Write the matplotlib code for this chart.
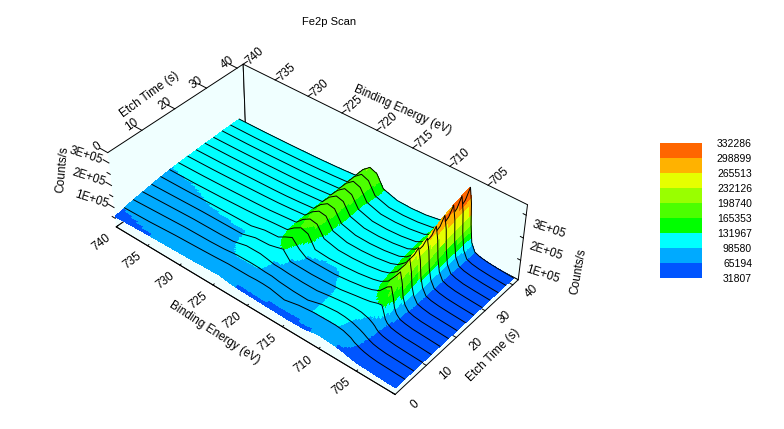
import numpy as np
import matplotlib
matplotlib.use("Agg")
import matplotlib.pyplot as plt
from matplotlib.colors import BoundaryNorm, ListedColormap
from mpl_toolkits.mplot3d import proj3d

plt.rcParams["font.family"] = ["Liberation Sans", "DejaVu Sans"]

###############################################################################
# DATA
###############################################################################

energy = [740, 736, 732, 728, 726, 724, 722, 721, 720, 719, 718, 716, 714, 712,
          710, 709, 708, 707, 706.5, 706.2, 706, 705.7, 705.2, 704.5, 703.5, 702, 700]

etch_time = [0, 2.9, 5.7, 8.6, 11.4, 14.3, 17.1, 20, 22.9, 25.7, 28.6, 31.4, 34.3, 37.1, 40]

# counts per scan, in thousands, one list per etch time
scan_00 = [58, 64, 67, 70, 73, 75, 66, 64, 63, 62, 61, 60, 58, 60, 72, 70, 67, 62, 59, 56, 54, 52, 49, 47, 45, 43, 40]
scan_01 = [68, 72, 80, 85, 88, 92, 92, 92, 94, 94, 92, 78, 92, 99, 100, 100, 96, 84, 72, 68, 64, 60, 55, 50, 46, 44, 41]
scan_02 = [76, 82, 88, 90, 93, 100, 101, 100, 97, 96, 90, 84, 82, 100, 106, 104, 98, 86, 78, 72, 68, 63, 56, 51, 47, 45, 42]
scan_03 = [82, 87, 92, 93, 95, 110, 110, 104, 97, 96, 93, 90, 90, 100, 108, 110, 108, 98, 88, 80, 72, 64, 57, 52, 48, 45, 42]
scan_04 = [88, 92, 96, 97, 97.5, 115, 118, 126, 135, 97, 96, 94, 96, 100, 111, 116, 122, 133, 135, 105, 82, 68, 58, 53, 48, 46, 42]
scan_05 = [94, 96, 100, 102, 103, 118, 122, 140, 155, 120, 98, 97, 97, 104, 114, 122, 136, 172, 182, 140, 100, 76, 60, 54, 49, 46, 42]
scan_06 = [98, 100, 104, 110, 114, 120, 125, 150, 168, 158, 105, 100, 102, 107, 117, 126, 146, 190, 215, 170, 112, 82, 61, 54, 49, 46, 42]
scan_07 = [101, 103, 107, 112, 115, 121, 127, 157, 176, 170, 122, 106, 105, 109, 119, 130, 155, 205, 240, 190, 125, 88, 62, 55, 49, 46, 42]
scan_08 = [103, 105, 109, 114, 117, 122, 128, 160, 180, 175, 125, 108, 107, 111, 121, 134, 162, 215, 255, 205, 135, 92, 63, 55, 50, 46, 42]
scan_09 = [105, 107, 111, 115, 118, 123, 129, 163, 184, 178, 128, 110, 108, 112, 122, 137, 168, 222, 265, 215, 140, 94, 64, 56, 50, 46, 42]
scan_10 = [107, 109, 112, 116, 119, 124, 129, 166, 188, 180, 130, 111, 109, 113, 123, 139, 174, 235, 285, 230, 150, 96, 65, 56, 50, 46, 42]
scan_11 = [108, 110, 113, 117, 120, 124, 130, 168, 192, 182, 132, 112, 110, 114, 124, 141, 178, 245, 302, 245, 160, 97, 66, 57, 50, 46, 42]
scan_12 = [110, 111, 114, 118, 121, 125, 130, 170, 195, 184, 133, 113, 111, 115, 125, 143, 182, 255, 315, 255, 165, 98, 66, 57, 51, 46, 42]
scan_13 = [111, 112, 115, 119, 122, 126, 131, 172, 198, 186, 134, 114, 112, 116, 126, 145, 186, 262, 325, 262, 170, 99, 66, 57, 51, 46, 42]
scan_14 = [112, 113, 116, 120, 123, 127, 132, 174, 200, 188, 135, 115, 113, 117, 128, 147, 190, 268, 332, 268, 175, 100, 66, 57, 51, 46, 42]

levels = [31807, 65194, 98580, 131967, 165353, 198740, 232126, 265513, 298899, 332286]
band_colors = ["#0055FF", "#00AAFF", "#00FFFF", "#00FF00", "#4CFF00",
               "#99FF00", "#E5FF00", "#FFB200", "#FF6600"]

energy_ticks = [740, 735, 730, 725, 720, 715, 710, 705]
time_ticks = [0, 10, 20, 30, 40]
count_ticks = [100000, 200000, 300000]
count_minor = [50000, 150000, 250000]
count_labels = ["1E+05", "2E+05", "3E+05"]

###############################################################################
# FIGURE
###############################################################################

E_LIM = (740, 700)
T_LIM = (0, 42)
Z_LIM = (10000, 345000)
PANE = "#F0FFFF"
FS = 8.5
LW = 0.7

fig = plt.figure(figsize=(7.84, 4.29), dpi=100)
fig.text(329 / 784, 1 - 22 / 429, "Fe2p Scan", ha="center", va="center", fontsize=8)

# square 3D axes placed so the box lands where it sits in the reference
side = 417.2
ax = fig.add_axes([98.9 / 784, -1.5 / 429, side / 784, side / 429], projection="3d")
ax.set_proj_type("persp", focal_length=0.653)
ax.view_init(elev=40.536, azim=-50.014)
ax.set_box_aspect((1, 0.551, 0.268))
ax.set_xlim(*E_LIM, view_margin=0)
ax.set_ylim(*T_LIM, view_margin=0)
ax.set_zlim(*Z_LIM, view_margin=0)
ax.patch.set_alpha(0)
ax.grid(False)
ax.computed_zorder = False

for axis in (ax.xaxis, ax.yaxis, ax.zaxis):
    axis.set_pane_color(PANE)
    axis.pane.set_edgecolor("black")
    axis.pane.set_linewidth(LW)
    axis.line.set_color("black")
    axis.line.set_linewidth(LW)
    axis._axinfo["tick"]["inward_factor"] = 0
    axis._axinfo["tick"]["outward_factor"] = 0.12
    axis._axinfo["tick"]["linewidth"] = {True: LW, False: LW}

ax.set_xticks(energy_ticks)
ax.set_yticks(time_ticks)
ax.set_zticks(count_ticks)
ax.set_zticklabels(count_labels)
ax.tick_params(axis="x", labelsize=FS, pad=-4)
ax.tick_params(axis="y", labelsize=FS, pad=2)
ax.tick_params(axis="z", labelsize=FS, pad=0)
for lab in ax.get_xticklabels():
    lab.set_rotation(38)
    lab.set_ha("right")
for lab in ax.get_yticklabels():
    lab.set_rotation(42)
    lab.set_va("bottom")
for lab in ax.get_zticklabels():
    lab.set_rotation(-18)
    lab.set_va("top")

###############################################################################
# SURFACE: drawn strip by strip from the back so the ridges hide the lines
###############################################################################

scans = [scan_00, scan_01, scan_02, scan_03, scan_04, scan_05, scan_06, scan_07,
         scan_08, scan_09, scan_10, scan_11, scan_12, scan_13, scan_14]
counts = np.array(scans, dtype=float) * 1000
energy_arr = np.array(energy, dtype=float)
time_arr = np.array(etch_time, dtype=float)

cmap = ListedColormap(band_colors)
norm = BoundaryNorm(levels, cmap.N, clip=True)

# finer mesh only so that the colour bands follow the surface smoothly
fine_energy = np.linspace(740, 700, 401)
fine_counts = np.array([np.interp(fine_energy, energy_arr[::-1], row[::-1]) for row in counts])

order = 1
for i in range(len(time_arr) - 2, -1, -1):
    weights = np.linspace(0, 1, 7)
    strip_time = time_arr[i] + weights * (time_arr[i + 1] - time_arr[i])
    strip_z = np.outer(1 - weights, fine_counts[i]) + np.outer(weights, fine_counts[i + 1])
    X, Y = np.meshgrid(fine_energy, strip_time)
    ax.plot_surface(X, Y, strip_z, facecolors=cmap(norm(strip_z)), rstride=1, cstride=1,
                    shade=False, linewidth=0, antialiased=False, zorder=order)
    # the scan behind this strip goes on top of it, nearer strips may still hide it
    ax.plot(energy_arr, np.full(energy_arr.shape, time_arr[i + 1]), counts[i + 1],
            color="black", lw=LW, zorder=order + 0.5)
    order += 1

###############################################################################
# EXTRA AXES ON THE TOP EDGES AND THE LEFT UPRIGHT
###############################################################################


def label_3d(x, y, z, text, rotation):
    xp, yp, _ = proj3d.proj_transform(x, y, z, ax.get_proj())
    ax.text2D(xp, yp, text, transform=ax.transData, rotation=rotation,
              ha="center", va="center", fontsize=FS, zorder=50)


top = Z_LIM[1]
for t in time_ticks:
    ax.plot([E_LIM[0], E_LIM[0] + 1.2], [t, t], [top, top], color="black", lw=LW, zorder=50)
    label_3d(E_LIM[0] + 1.6, t, top, str(t), 35)
for e in energy_ticks:
    ax.plot([e, e], [T_LIM[1], T_LIM[1] + 1.4], [top, top], color="black", lw=LW, zorder=50)
    label_3d(e, T_LIM[1] + 4.0, top, str(e), 42)
for z, lab in zip(count_ticks, count_labels):
    ax.plot([E_LIM[0], E_LIM[0] + 0.9], [0, 0], [z, z], color="black", lw=LW, zorder=50)
    label_3d(E_LIM[0] + 3.7, 0, z - 25000, lab, -18)
for z in count_minor:
    ax.plot([E_LIM[0], E_LIM[0] + 0.5], [0, 0], [z, z], color="black", lw=LW, zorder=50)
    ax.plot([E_LIM[1], E_LIM[1] - 0.4], [T_LIM[1], T_LIM[1]], [z, z], color="black", lw=LW, zorder=50)

# axis titles, each one front and back as in the reference
fig.text(215 / 784, 1 - 333 / 429, "Binding Energy (eV)", rotation=-33, ha="center", va="center", fontsize=FS)
fig.text(493 / 784, 1 - 355 / 429, "Etch Time (s)", rotation=45, ha="center", va="center", fontsize=FS)
fig.text(578 / 784, 1 - 272 / 429, "Counts/s", rotation=80, ha="center", va="center", fontsize=FS)
fig.text(150 / 784, 1 - 95 / 429, "Etch Time (s)", rotation=36, ha="center", va="center", fontsize=FS)
fig.text(403 / 784, 1 - 110 / 429, "Binding Energy (eV)", rotation=-24, ha="center", va="center", fontsize=FS)
fig.text(62 / 784, 1 - 170 / 429, "Counts/s", rotation=85, ha="center", va="center", fontsize=FS)

###############################################################################
# LEGEND
###############################################################################

cax = fig.add_axes([660 / 784, 1 - 278 / 429, 42 / 784, 135 / 429])
cax.barh(np.arange(len(band_colors)), 1, height=1, align="edge", color=band_colors)
cax.set_xlim(0, 1)
cax.set_ylim(0, len(band_colors))
cax.set_xticks([])
cax.yaxis.tick_right()
cax.set_yticks(np.arange(len(levels)))
cax.set_yticklabels([str(v) for v in levels], ha="right")
cax.tick_params(axis="y", length=0, pad=36, labelsize=7.5)
for spine in cax.spines.values():
    spine.set_visible(False)

fig.savefig("out.png", dpi=100)
